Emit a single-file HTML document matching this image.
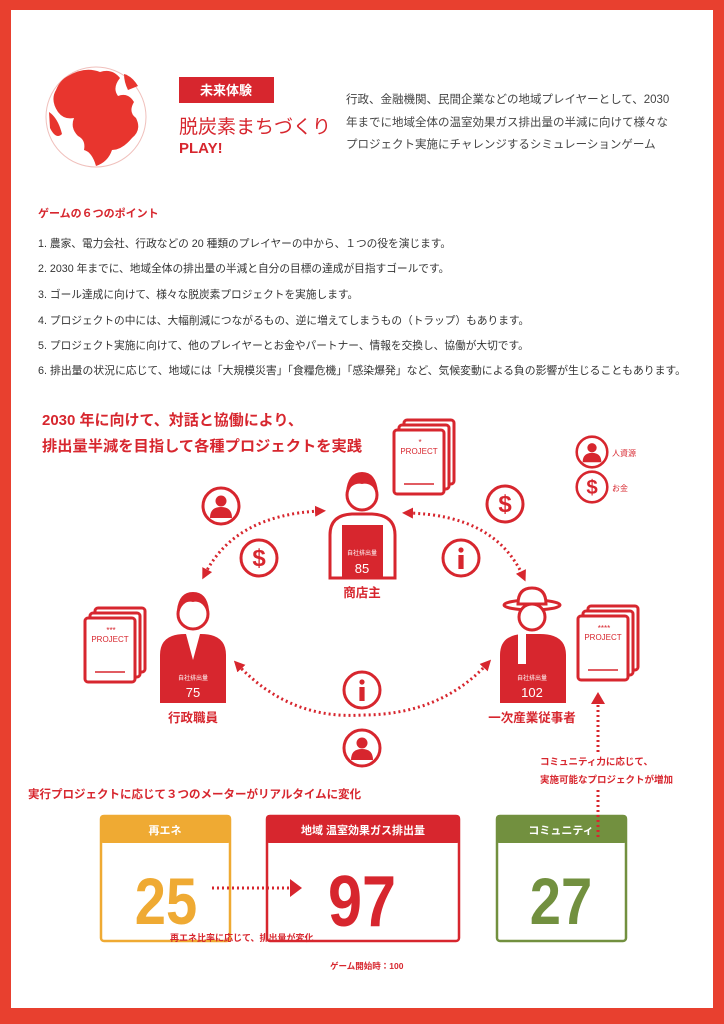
<!DOCTYPE html>
<html><head><meta charset="utf-8"><style>
html,body{margin:0;padding:0}
body{width:724px;height:1024px;position:relative;background:#e8402f;font-family:"Liberation Sans","Noto Sans CJK JP",sans-serif;overflow:hidden}
#pg{position:absolute;left:11px;top:10px;width:702px;height:998px;background:#fff}
</style></head><body>
<div id="pg"></div>
<svg width="724" height="1024" style="position:absolute;left:0;top:0" font-family="Liberation Sans, Noto Sans CJK JP, sans-serif">
<defs>
<g id="card"><rect x="0" y="0" width="50" height="64" rx="3" fill="#fff" stroke="#d7262e" stroke-width="3"/></g>
<g id="proj">
 <use href="#card" x="10" y="0"/><use href="#card" x="5" y="5"/><use href="#card" x="0" y="10"/>
 <text x="25" y="34" font-size="8" fill="#d7262e" text-anchor="middle">PROJECT</text>
 <line x1="10" y1="64" x2="40" y2="64" stroke="#d7262e" stroke-width="1.5"/>
</g>
<g id="pc"><circle r="18" fill="#fff" stroke="#d7262e" stroke-width="3"/><circle cy="-5" r="5.5" fill="#d7262e"/><path d="M-11,12 Q-11,1 0,1 Q11,1 11,12 Z" fill="#d7262e"/></g>
<g id="dc"><circle r="18" fill="#fff" stroke="#d7262e" stroke-width="3"/><text y="8" font-size="24" font-weight="bold" fill="#d7262e" text-anchor="middle">$</text></g>
<g id="ic"><circle r="18" fill="#fff" stroke="#d7262e" stroke-width="3"/><circle cy="-8" r="2.6" fill="#d7262e"/><rect x="-2.6" y="-3" width="5.2" height="14" fill="#d7262e"/></g>
<marker id="ah" markerUnits="userSpaceOnUse" markerWidth="11" markerHeight="11" refX="5" refY="5.5" orient="auto-start-reverse"><path d="M0,0 L11,5.5 L0,11 Z" fill="#d7262e"/></marker>
</defs>
<!-- globe -->
<circle cx="96" cy="117" r="50" fill="#fff" stroke="#f0c0bc" stroke-width="1"/>
<path d="M68,76 Q85,66 100,72 Q112,68 120,78 Q112,88 118,96 Q128,92 134,102 Q128,112 136,118 Q142,130 132,138 Q122,150 112,150 Q108,162 96,166 Q92,152 84,150 Q86,140 78,136 Q70,128 74,118 Q64,120 58,112 Q50,100 56,90 Q60,80 68,76 Z" fill="#e8352e"/>
<path d="M49,112 Q58,118 62,134 Q56,140 50,128 Z" fill="#e8352e"/>
<path d="M124,74 Q132,76 138,86 L128,90 Q124,82 124,74 Z" fill="#e8352e"/>
<rect x="179" y="77" width="95" height="26" fill="#d7262e"/>
<text x="226" y="95" font-size="13" font-weight="bold" fill="#fff" text-anchor="middle">未来体験</text>
<text x="179" y="133" font-size="19" fill="#d7262e">脱炭素まちづくり</text>
<text x="179" y="153" font-size="15" font-weight="bold" fill="#d7262e">PLAY!</text>
<g font-size="11.5" fill="#444">
<text x="346" y="103">行政、金融機関、民間企業などの地域プレイヤーとして、2030</text>
<text x="346" y="126">年までに地域全体の温室効果ガス排出量の半減に向けて様々な</text>
<text x="346" y="148">プロジェクト実施にチャレンジするシミュレーションゲーム</text>
</g>
<text x="38" y="217" font-size="11" font-weight="bold" fill="#d7262e">ゲームの６つのポイント</text>
<g font-size="10.7" fill="#333">
<text x="38" y="247">1.  農家、電力会社、行政などの 20 種類のプレイヤーの中から、１つの役を演じます。</text>
<text x="38" y="272">2. 2030 年までに、地域全体の排出量の半減と自分の目標の達成が目指すゴールです。</text>
<text x="38" y="298">3. ゴール達成に向けて、様々な脱炭素プロジェクトを実施します。</text>
<text x="38" y="324">4. プロジェクトの中には、大幅削減につながるもの、逆に増えてしまうもの（トラップ）もあります。</text>
<text x="38" y="349">5. プロジェクト実施に向けて、他のプレイヤーとお金やパートナー、情報を交換し、協働が大切です。</text>
<text x="38" y="374" textLength="648" lengthAdjust="spacingAndGlyphs">6. 排出量の状況に応じて、地域には「大規模災害」「食糧危機」「感染爆発」など、気候変動による負の影響が生じることもあります。</text>
</g>
<g font-size="15" font-weight="bold" fill="#d7262e">
<text x="42" y="425">2030 年に向けて、対話と協働により、</text>
<text x="42" y="451" textLength="320" lengthAdjust="spacingAndGlyphs">排出量半減を目指して各種プロジェクトを実践</text>
</g>
<!-- project cards -->
<use href="#proj" x="394" y="420"/>
<use href="#proj" x="85" y="608"/>
<use href="#proj" x="578" y="606"/>
<text x="420" y="445" font-size="8" fill="#d7262e" text-anchor="middle">*</text>
<text x="111" y="633" font-size="8" fill="#d7262e" text-anchor="middle">***</text>
<text x="604" y="631" font-size="8" fill="#d7262e" text-anchor="middle">****</text>
<!-- persons -->
<g fill="#d7262e">
<circle cx="362" cy="495" r="15" fill="#fff" stroke="#d7262e" stroke-width="3"/>
<path d="M346,492 Q348,472 362,472 Q376,472 378,492 Q370,482 362,484 Q354,482 346,492 Z"/>
<path d="M330,578 L330,535 Q330,515 352,514 L372,514 Q395,515 395,535 L395,578 Z" fill="#fff" stroke="#d7262e" stroke-width="3"/>
<path d="M342,578 L342,525 L383,525 L383,578 Z"/>
<text x="362" y="555" font-size="6" fill="#fff" text-anchor="middle">自社排出量</text>
<text x="362" y="573" font-size="13" fill="#fff" text-anchor="middle">85</text>
</g>
<text x="362" y="597" font-size="12.5" font-weight="bold" fill="#d7262e" text-anchor="middle">商店主</text>
<g fill="#d7262e">
<circle cx="193" cy="614" r="15" fill="#fff" stroke="#d7262e" stroke-width="3"/>
<path d="M177,610 Q179,592 193,592 Q207,592 209,610 Q200,600 193,602 Q185,600 177,610 Z"/>
<path d="M160,703 L160,655 Q160,634 185,634 L201,634 Q226,634 226,655 L226,703 Z"/>
<path d="M186,634 L193,660 L200,634 Z" fill="#fff"/>
<text x="193" y="680" font-size="6" fill="#fff" text-anchor="middle">自社排出量</text>
<text x="193" y="697" font-size="13" fill="#fff" text-anchor="middle">75</text>
</g>
<text x="193" y="722" font-size="12.5" font-weight="bold" fill="#d7262e" text-anchor="middle">行政職員</text>
<g fill="#d7262e">
<ellipse cx="532" cy="605" rx="28" ry="5" fill="#fff" stroke="#d7262e" stroke-width="3"/>
<path d="M518,604 Q518,588 532,588 Q546,588 546,604 Z" fill="#fff" stroke="#d7262e" stroke-width="3"/>
<circle cx="532" cy="617" r="13" fill="#fff" stroke="#d7262e" stroke-width="3"/>
<path d="M500,703 L500,655 Q500,634 525,634 L540,634 Q566,634 566,655 L566,703 Z"/>
<rect x="518" y="634" width="8" height="30" fill="#fff"/>
<text x="532" y="680" font-size="6" fill="#fff" text-anchor="middle">自社排出量</text>
<text x="532" y="697" font-size="13" fill="#fff" text-anchor="middle">102</text>
</g>
<text x="532" y="722" font-size="12.5" font-weight="bold" fill="#d7262e" text-anchor="middle">一次産業従事者</text>
<!-- icons -->
<use href="#pc" x="221" y="506"/>
<use href="#dc" x="259" y="558"/>
<use href="#dc" x="505" y="504"/>
<use href="#ic" x="461" y="558"/>
<use href="#ic" x="362" y="690"/>
<use href="#pc" x="362" y="748"/>
<g transform="translate(592,452) scale(0.85)"><use href="#pc"/></g>
<g transform="translate(592,487) scale(0.85)"><use href="#dc"/></g>
<text x="612" y="456" font-size="8" fill="#d7262e">人資源</text>
<text x="612" y="491" font-size="8" fill="#d7262e">お金</text>
<!-- dotted arcs -->
<g fill="none" stroke="#d7262e" stroke-width="3" stroke-dasharray="2,3">
<path d="M205,574 Q235,515 320,511" marker-end="url(#ah)" marker-start="url(#ah)"/>
<path d="M408,513 Q495,515 523,576" marker-end="url(#ah)" marker-start="url(#ah)"/>
<path d="M238,665 Q290,720 362,715 Q440,715 487,664" marker-end="url(#ah)" marker-start="url(#ah)"/>
<path d="M598,705 L598,752"/>
</g>
<path d="M591,704 L598,692 L605,704 Z" fill="#d7262e"/>
<g font-size="9.5" font-weight="bold" fill="#d7262e">
<text x="540" y="765">コミュニティ力に応じて、</text>
<text x="540" y="783">実施可能なプロジェクトが増加</text>
</g>
<text x="28" y="798" font-size="11.5" font-weight="bold" fill="#d7262e">実行プロジェクトに応じて３つのメーターがリアルタイムに変化</text>
<!-- meters -->
<rect x="101" y="816" width="129" height="125" rx="3" fill="#fff" stroke="#efaa33" stroke-width="2.5"/>
<rect x="100" y="815" width="131" height="28" rx="3" fill="#efaa33"/>
<text x="165" y="834" font-size="11" font-weight="bold" fill="#fff" text-anchor="middle">再エネ</text>
<text x="166" y="924" font-size="66" font-weight="bold" fill="#efaa33" text-anchor="middle" transform="translate(166,0) scale(0.85,1) translate(-166,0)">25</text>
<rect x="267" y="816" width="192" height="125" rx="3" fill="#fff" stroke="#d7262e" stroke-width="2.5"/>
<rect x="266" y="815" width="194" height="28" rx="3" fill="#d7262e"/>
<text x="363" y="834" font-size="11" font-weight="bold" fill="#fff" text-anchor="middle">地域 温室効果ガス排出量</text>
<text x="362" y="926" font-size="72" font-weight="bold" fill="#d7262e" text-anchor="middle" transform="translate(362,0) scale(0.85,1) translate(-362,0)">97</text>
<rect x="497" y="816" width="129" height="125" rx="3" fill="#fff" stroke="#72903f" stroke-width="2.5"/>
<rect x="496" y="815" width="131" height="28" rx="3" fill="#72903f"/>
<text x="561" y="834" font-size="11" font-weight="bold" fill="#fff" text-anchor="middle">コミュニティ</text>
<text x="561" y="924" font-size="66" font-weight="bold" fill="#72903f" text-anchor="middle" transform="translate(561,0) scale(0.85,1) translate(-561,0)">27</text>
<g fill="none" stroke="#d7262e" stroke-width="3" stroke-dasharray="2,3">
<path d="M598,790 L598,838"/>
<path d="M212,888 L290,888"/>
</g>
<path d="M290,879 L302,888 L290,897 Z" fill="#d7262e"/>
<text x="170" y="941" font-size="9" font-weight="bold" fill="#d7262e">再エネ比率に応じて、排出量が変化</text>
<text x="330" y="969" font-size="8.5" font-weight="bold" fill="#d7262e">ゲーム開始時：100</text>
</svg>
</body></html>
